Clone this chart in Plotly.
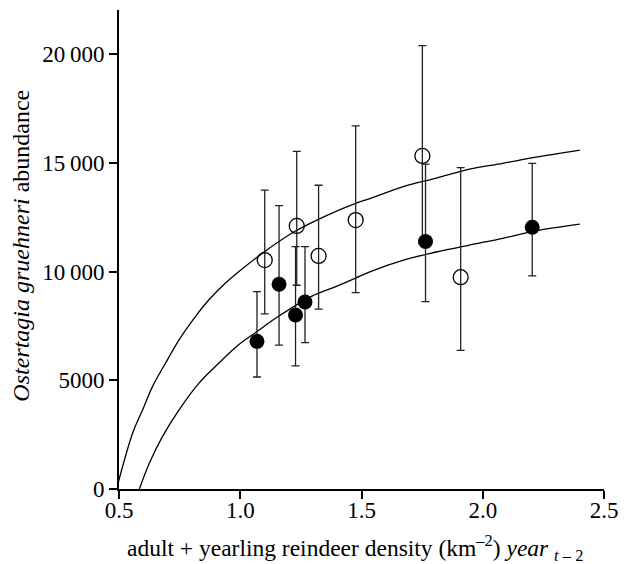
import plotly.graph_objects as go

# open circles
open_x = [1.101, 1.233, 1.323, 1.476, 1.751, 1.909]
open_y = [10530, 12100, 10720, 12370, 15320, 9740]
open_hi = [13750, 15530, 13970, 16700, 20390, 14780]
open_lo = [8050, 9370, 8270, 9030, 11300, 6380]

# filled circles
filled_x = [1.069, 1.160, 1.228, 1.267, 1.764, 2.204]
filled_y = [6790, 9420, 8000, 8600, 11380, 12040]
filled_hi = [9080, 13030, 11150, 11150, 14940, 14980]
filled_lo = [5150, 6620, 5660, 6730, 8620, 9800]

# fitted curves
upper_x = [0.49, 0.556, 0.597, 0.638, 0.699, 0.747, 0.815, 0.870, 0.938, 1.0,
           1.101, 1.224, 1.360, 1.476, 1.537, 1.673, 1.809, 1.945, 2.082, 2.218, 2.40]
upper_y = [0, 2560, 3630, 4710, 5930, 6850, 7930, 8690, 9460, 10050,
           10920, 11840, 12600, 13140, 13370, 13910, 14300, 14710, 14980, 15260, 15590]
lower_x = [0.584, 0.625, 0.679, 0.747, 0.829, 0.911, 0.992, 1.069, 1.156, 1.292,
           1.401, 1.476, 1.537, 1.673, 1.809, 1.945, 2.082, 2.218, 2.40]
lower_y = [0, 1180, 2410, 3630, 4860, 5780, 6620, 7240, 7930, 8850,
           9340, 9700, 10000, 10530, 10900, 11220, 11530, 11870, 12180]

y_ticks = [0, 5000, 10000, 15000, 20000]
y_labels = ['0', '5000', '10\u2009000', '15\u2009000', '20\u2009000']
x_ticks = [0.5, 1.0, 1.5, 2.0, 2.5]
x_labels = ['0.5', '1.0', '1.5', '2.0', '2.5']

FONT = 'Liberation Serif, Times New Roman, Times, serif'

fig = go.Figure()

for cx, cy in [(upper_x, upper_y), (lower_x, lower_y)]:
    fig.add_trace(go.Scatter(x=cx, y=cy, mode='lines',
                             line=dict(color='black', width=1.3, shape='spline'),
                             hoverinfo='skip'))


def err(y, hi, lo):
    return dict(type='data', symmetric=False,
                array=[h - v for h, v in zip(hi, y)],
                arrayminus=[v - l for v, l in zip(y, lo)],
                color='#222', thickness=1.3, width=4)


fig.add_trace(go.Scatter(x=open_x, y=open_y, mode='markers',
                         marker=dict(symbol='circle-open', size=15, color='black',
                                     line=dict(width=1.3, color='black')),
                         error_y=err(open_y, open_hi, open_lo)))
fig.add_trace(go.Scatter(x=filled_x, y=filled_y, mode='markers',
                         marker=dict(symbol='circle', size=15, color='black'),
                         error_y=err(filled_y, filled_hi, filled_lo)))

fig.update_layout(
    width=624, height=564,
    margin=dict(l=119, r=6, t=10, b=75),
    paper_bgcolor='white', plot_bgcolor='white',
    showlegend=False,
    font=dict(family=FONT, size=22, color='black'),
    xaxis=dict(range=[0.5, 2.5], tickvals=x_ticks, ticktext=x_labels,
               showgrid=False, zeroline=False, showline=True,
               linecolor='black', linewidth=2, ticks='outside',
               ticklen=8, tickwidth=1.5, tickcolor='black',
               ticklabelstandoff=-9, ticklabeloverflow='allow',
               tickfont=dict(family=FONT, size=23)),
    yaxis=dict(range=[0, 22030], tickvals=y_ticks, ticktext=y_labels,
               showgrid=False, zeroline=False, showline=True,
               linecolor='black', linewidth=2, ticks='outside',
               ticklen=8, tickwidth=1.5, tickcolor='black',
               tickfont=dict(family=FONT, size=23)),
    annotations=[
        dict(text='adult + yearling reindeer density (km<sup>\u20132</sup>) '
                  '<i>year</i> <sub><i>t</i> \u2013 2</sub>',
             xref='paper', yref='paper', x=0.487, y=-0.124,
             xanchor='center', yanchor='middle', showarrow=False,
             font=dict(family=FONT, size=23.5)),
        dict(text='<i>Ostertagia gruehneri</i> abundance',
             xref='paper', yref='paper', x=-0.201, y=0.507,
             xanchor='center', yanchor='middle', textangle=-90,
             showarrow=False, font=dict(family=FONT, size=24)),
    ],
)

# drop the default body margin and scrollbars so the figure fills the window
fig.write_html('out.html',
               config=dict(displayModeBar=False, responsive=False),
               post_script="document.body.style.margin='0';"
                           "document.body.style.overflow='hidden';")
